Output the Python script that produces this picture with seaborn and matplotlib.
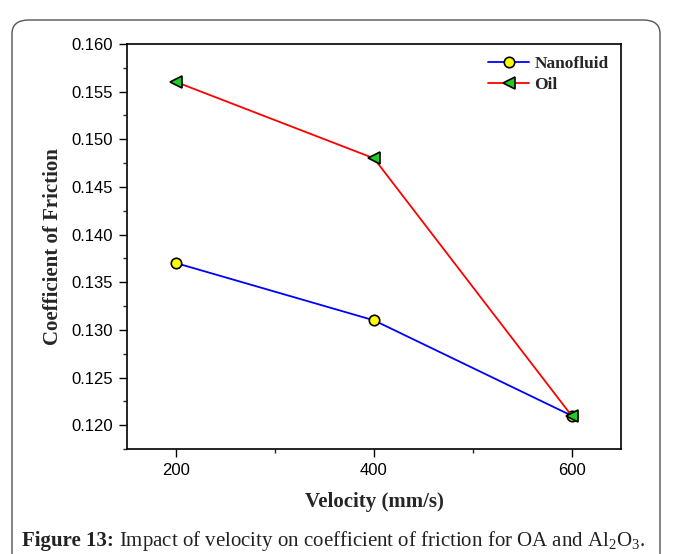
import matplotlib
matplotlib.use("Agg")
import matplotlib.pyplot as plt
from matplotlib.patches import FancyBboxPatch
from matplotlib.ticker import MultipleLocator
import seaborn as sns
import pandas as pd

velocity = [200, 400, 600]
nanofluid = [0.137, 0.131, 0.121]
oil = [0.156, 0.148, 0.121]
x_ticks = [200, 400, 600]
y_ticks = [0.120, 0.125, 0.130, 0.135, 0.140, 0.145, 0.150, 0.155, 0.160]

sns.set_theme(style="ticks")
plt.rcParams['font.family'] = ['Liberation Sans', 'DejaVu Sans']
plt.rcParams['mathtext.fontset'] = 'custom'
plt.rcParams['mathtext.rm'] = 'Liberation Serif'
plt.rcParams['mathtext.bf'] = 'Liberation Serif:bold'
plt.rcParams['mathtext.it'] = 'Liberation Serif:italic'

W, H = 673, 554
fig = plt.figure(figsize=(W/100, H/100), dpi=100)
fig.patch.set_facecolor('white')

# rounded frame
frame = FancyBboxPatch((12/W, -0.05), (660-12)/W, (H-20)/H + 0.05,
                       boxstyle="round,pad=0,rounding_size=0.025",
                       transform=fig.transFigure, facecolor='none',
                       edgecolor='#555555', linewidth=1.0)
fig.patches.append(frame)

ax = fig.add_axes([127/W, (H-449)/H, (621-127)/W, (449-44)/H])

df_n = pd.DataFrame({'Velocity': velocity, 'COF': nanofluid})
df_o = pd.DataFrame({'Velocity': velocity, 'COF': oil})

sns.lineplot(data=df_n, x='Velocity', y='COF', ax=ax, color='#0000ff', lw=1.3,
             marker='o', markersize=7.5, markerfacecolor='#ffff00',
             markeredgecolor='black', markeredgewidth=1.2, label='Nanofluid')
sns.lineplot(data=df_o, x='Velocity', y='COF', ax=ax, color='#ff0000', lw=1.3,
             marker='<', markersize=8.5, markerfacecolor='#22cc22',
             markeredgecolor='black', markeredgewidth=1.2, label='Oil')

ax.set_xlim(150, 650)
ax.set_ylim(0.1175, 0.160)
ax.set_xticks(x_ticks)
ax.set_yticks(y_ticks)
ax.set_yticklabels([f"{v:.3f}" for v in y_ticks])
ax.xaxis.set_minor_locator(MultipleLocator(100))
ax.yaxis.set_minor_locator(MultipleLocator(0.0025))
ax.tick_params(axis='both', which='major', direction='out', length=6, width=1,
               labelsize=12, colors='black', top=False, right=False, pad=4)
ax.tick_params(axis='both', which='minor', direction='out', length=3, width=1,
               top=False, right=False)
for s in ax.spines.values():
    s.set_visible(True)
    s.set_linewidth(1.2)
    s.set_color('black')

ax.set_xlabel('Velocity (mm/s)', fontfamily='Liberation Serif', fontweight='bold',
              fontsize=15, labelpad=10)
ax.set_ylabel('Coefficient of Friction', fontfamily='Liberation Serif', fontweight='bold',
              fontsize=15, labelpad=6)

leg = ax.legend(loc='upper right', frameon=False, prop={'family': 'Liberation Serif',
                'weight': 'bold', 'size': 12.5}, handlelength=2.4, handletextpad=0.3,
                borderaxespad=0.3, labelspacing=0.25)

# caption: bold part then regular part
renderer = fig.canvas.get_renderer()
cap_y = (H-546)/H
t1 = fig.text(22/W, cap_y, "Figure 13:", fontfamily='Liberation Serif', fontweight='bold',
              fontsize=15, ha='left', va='baseline', color='#222222')
bb = t1.get_window_extent(renderer=renderer)
x2 = (bb.x1 + 5) / W
fig.text(x2, cap_y,
         r"Impact of velocity on coefficient of friction for OA and Al$_2$O$_3$.",
         fontfamily='Liberation Serif', fontsize=15, ha='left', va='baseline', color='#222222')

fig.savefig('out.png', dpi=100)
